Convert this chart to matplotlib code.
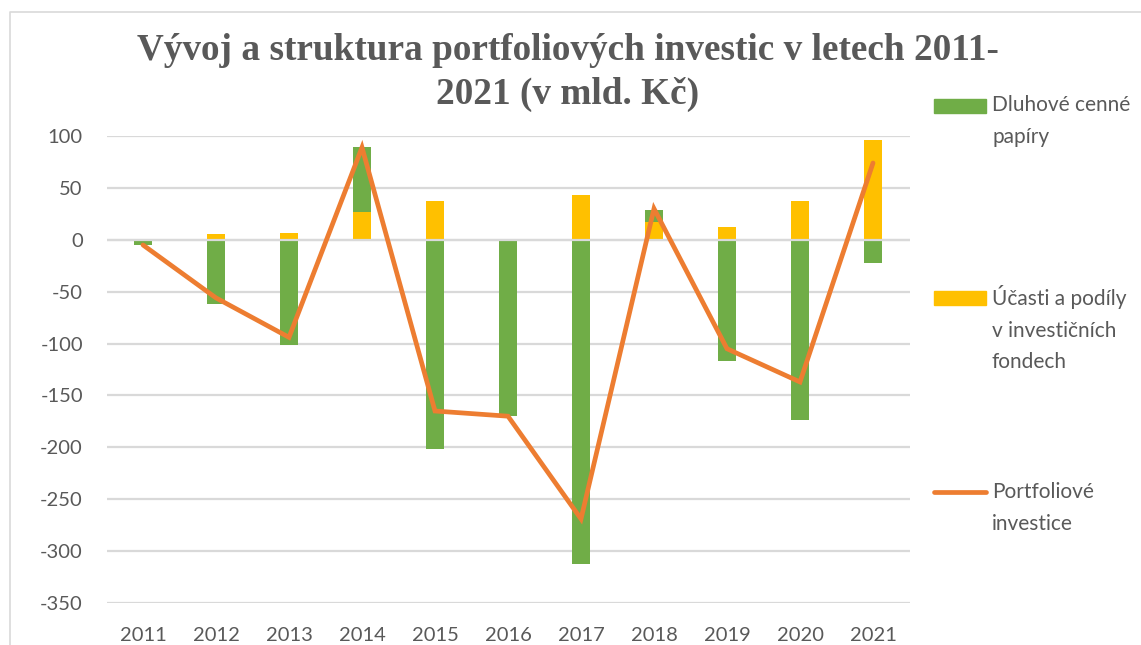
import numpy as np
import matplotlib
matplotlib.use("Agg")
import matplotlib.pyplot as plt
from matplotlib.patches import Rectangle
from matplotlib.lines import Line2D

plt.rcParams["axes.unicode_minus"] = False

years = ["2011", "2012", "2013", "2014", "2015", "2016", "2017", "2018", "2019", "2020", "2021"]
ucasti = [-1.5, 6, 7, 27, 37, 0.5, 43, 17, 12, 37, 96]           # Účasti a podíly v investičních fondech
dluhove = [-3.5, -62, -101, 62, -202, -170, -312, 12, -117, -174, -22]  # Dluhové cenné papíry
portfolio = [-5, -56, -94, 89, -165, -170, -269, 30, -105, -137, 74]  # Portfoliové investice
yticks = [100, 50, 0, -50, -100, -150, -200, -250, -300, -350]

title = "Vývoj a struktura portfoliových investic v letech 2011-\n2021 (v mld. Kč)"
leg_labels = ["Dluhové cenné\npapíry", "Účasti a podíly\nv investičních\nfondech", "Portfoliové\ninvestice"]

GREEN = "#70AD47"
YELLOW = "#FFC000"
ORANGE = "#ED7D31"
GRID = "#D9D9D9"
TXT = "#595959"
FONT = ["Lato", "DejaVu Sans"]

W, H = 1141, 645
fig = plt.figure(figsize=(W / 100, H / 100), dpi=100)

def fx(px):
    return px / W

def fy(py):
    return 1 - py / H

ax = fig.add_axes([fx(106.5), fy(603), fx(909.5) - fx(106.5), fy(136) - fy(603)])

x = np.arange(len(years))
u = np.array(ucasti, dtype=float)
d = np.array(dluhove, dtype=float)
# stacking like Excel: positives upward, negatives downward, yellow series first
u_bottom = np.zeros_like(u)
d_bottom = np.where(d >= 0, np.where(u > 0, u, 0), np.where(u < 0, u, 0))

bw = 0.25
ax.bar(x, u, bw, bottom=u_bottom, color=YELLOW, zorder=2)
ax.bar(x, d, bw, bottom=d_bottom, color=GREEN, zorder=2)
ax.axhline(0, color=GRID, lw=1.6, zorder=3)
ax.plot(x, portfolio, color=ORANGE, lw=3.4, solid_capstyle="round",
        solid_joinstyle="miter", zorder=4)

ax.set_xlim(-0.5, len(years) - 0.5)
ax.set_ylim(-350, 100)
ax.set_yticks(yticks)
ax.set_xticks(x)
ax.set_xticklabels(years)
ax.grid(axis="y", color=GRID, lw=1.6, zorder=0)
ax.set_axisbelow(True)
for s in ax.spines.values():
    s.set_visible(False)
ax.tick_params(axis="both", length=0, colors=TXT, labelsize=14.5)
ax.tick_params(axis="y", pad=17)
ax.tick_params(axis="x", pad=17)
for lab in ax.get_xticklabels() + ax.get_yticklabels():
    lab.set_family(FONT)

fig.text(fx(568), fy(33), title, ha="center", va="top", fontsize=26.8, fontweight="bold",
         family=["Liberation Serif", "DejaVu Serif"], color=TXT, linespacing=1.33)

# legend (drawn manually to match Excel layout)
entries = [(GREEN, "patch", 106, 11), (YELLOW, "patch", 298, 13), (ORANGE, "line", 492, 10)]
for (col, kind, yc, off), lab in zip(entries, leg_labels):
    if kind == "patch":
        fig.patches.append(Rectangle((fx(934), fy(yc + 7)), fx(986) - fx(934), fy(yc - 7) - fy(yc + 7),
                                     transform=fig.transFigure, color=col))
    else:
        fig.lines.append(Line2D([fx(934), fx(986)], [fy(yc), fy(yc)], transform=fig.transFigure,
                                color=col, lw=3.4, solid_capstyle="round"))
    fig.text(fx(992), fy(yc - off), lab, ha="left", va="top", fontsize=15, family=FONT,
             color=TXT, linespacing=1.72)

# chart area border
fig.lines.append(Line2D([fx(10), fx(10), fx(W)], [fy(H), fy(12), fy(12)], transform=fig.transFigure,
                        color=GRID, lw=1.2))

fig.savefig("out.png", dpi=100)
